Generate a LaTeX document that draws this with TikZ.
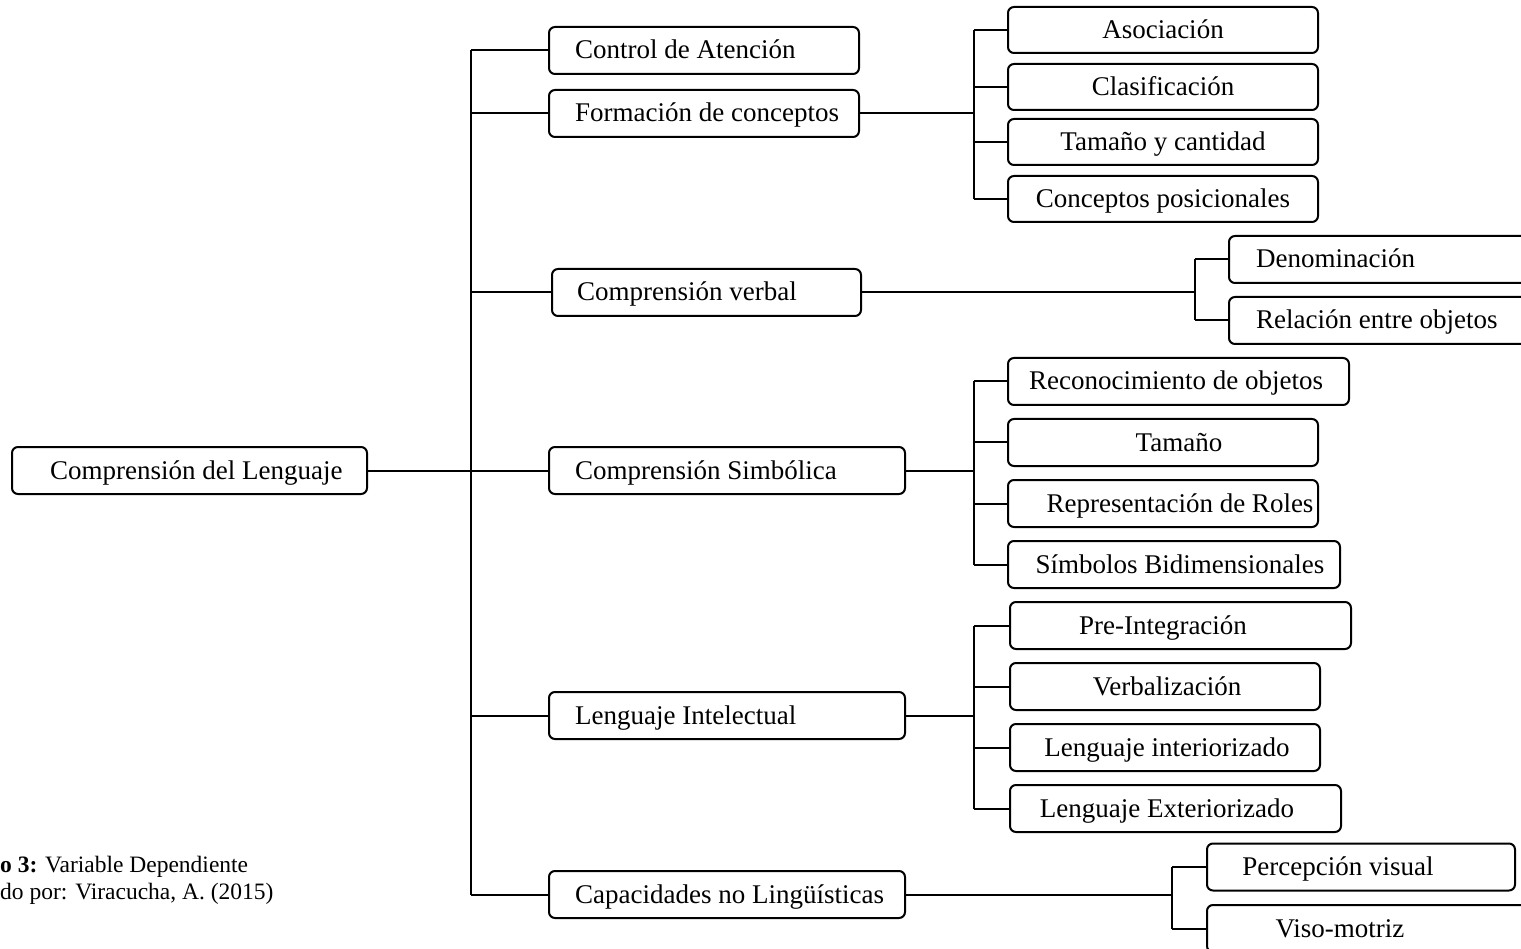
\documentclass[tikz,border=0pt]{standalone}
\usepackage{fontspec}
\setmainfont{Liberation Serif}
\begin{document}
\begin{tikzpicture}[x=1pt,y=-1pt,
  box/.style={draw, line width=2pt, rounded corners=6pt, minimum height=47pt, inner sep=0pt},
  txt/.style={inner sep=0pt, font=\fontsize{27}{32}\selectfont, text height=17pt, text depth=0pt},
  captxt/.style={inner sep=0pt, anchor=west, font=\fontsize{23.5}{24}\selectfont},
  ln/.style={line width=2pt}]
\useasboundingbox (0,0) rectangle (1521,949);
\clip (0,0) rectangle (1521,949);

% root
\node[box, minimum width=355pt] (root) at (189.5,470.5) {};
\node[txt, anchor=west] (troot) at (50,470.5) {Comprensión del Lenguaje};

% level 1
\node[box, minimum width=310pt] (L1) at (704,50.5) {};
\node[txt, anchor=west] (tL1) at (575,50.5) {Control de Atención};
\node[box, minimum width=310pt] (L2) at (704,113.5) {};
\node[txt, anchor=west] (tL2) at (575,113.5) {Formación de conceptos};
\node[box, minimum width=309pt] (L3) at (706.5,292.5) {};
\node[txt, anchor=west] (tL3) at (577,292.5) {Comprensión verbal};
\node[box, minimum width=356pt] (L4) at (727,470.5) {};
\node[txt, anchor=west] (tL4) at (575,470.5) {Comprensión Simbólica};
\node[box, minimum width=356pt] (L5) at (727,715.5) {};
\node[txt, anchor=west] (tL5) at (575,715.5) {Lenguaje Intelectual};
\node[box, minimum width=356pt] (L6) at (727,894.5) {};
\node[txt, anchor=west] (tL6) at (575,894.5) {Capacidades no Lingüísticas};

% group A
\node[box, minimum width=310pt, minimum height=46pt] (A1) at (1163,30) {};
\node[txt] (tA1) at (1163,30) {Asociación};
\node[box, minimum width=310pt, minimum height=46pt] (A2) at (1163,87) {};
\node[txt] (tA2) at (1163,87) {Clasificación};
\node[box, minimum width=310pt, minimum height=46pt] (A3) at (1163,142) {};
\node[txt] (tA3) at (1163,142) {Tamaño y cantidad};
\node[box, minimum width=310pt, minimum height=46pt] (A4) at (1163,199) {};
\node[txt] (tA4) at (1163,199) {Conceptos posicionales};

% group B
\node[box, minimum width=301pt] (B1) at (1379.5,259.5) {};
\node[txt, anchor=west] (tB1) at (1256,259.5) {Denominación};
\node[box, minimum width=301pt] (B2) at (1379.5,320.5) {};
\node[txt, anchor=west] (tB2) at (1256,320.5) {Relación entre objetos};

% group C
\node[box, minimum width=341pt] (C1) at (1178.5,381.5) {};
\node[txt] (tC1) at (1176,381.5) {Reconocimiento de objetos};
\node[box, minimum width=310pt] (C2) at (1163,442.5) {};
\node[txt] (tC2) at (1179,442.5) {Tamaño};
\node[box, minimum width=310pt] (C3) at (1163,503.5) {};
\node[txt] (tC3) at (1180,503.5) {Representación de Roles};
\node[box, minimum width=332pt] (C4) at (1174,564.5) {};
\node[txt] (tC4) at (1180,564.5) {Símbolos Bidimensionales};

% group D
\node[box, minimum width=341pt] (D1) at (1180.5,625.5) {};
\node[txt] (tD1) at (1163,625.5) {Pre-Integración};
\node[box, minimum width=310pt] (D2) at (1165,686.5) {};
\node[txt] (tD2) at (1167,686.5) {Verbalización};
\node[box, minimum width=310pt] (D3) at (1165,747.5) {};
\node[txt] (tD3) at (1167,747.5) {Lenguaje interiorizado};
\node[box, minimum width=331pt] (D4) at (1175.5,808.5) {};
\node[txt] (tD4) at (1167,808.5) {Lenguaje Exteriorizado};

% group E
\node[box, minimum width=308pt] (E1) at (1361,867) {};
\node[txt] (tE1) at (1338,867) {Percepción visual};
\node[box, minimum width=323pt] (E2) at (1368.5,928.5) {};
\node[txt] (tE2) at (1340,928.5) {Viso-motriz};

% connectors: trunk
\coordinate (t) at (471,0);
\draw[ln] (root.east) -- (L4.west);
\draw[ln] (L1.west -| t) -- (L6.west -| t);
\foreach \n in {L1,L2,L3,L5,L6} \draw[ln] (\n.west -| t) -- (\n.west);

% group A
\coordinate (ta) at (974,0);
\draw[ln] (L2.east) -- (L2.east -| ta);
\draw[ln] (A1.west -| ta) -- (A4.west -| ta);
\foreach \n in {A1,A2,A3,A4} \draw[ln] (\n.west -| ta) -- (\n.west);

% group B
\coordinate (tb) at (1195,0);
\draw[ln] (L3.east) -- (L3.east -| tb);
\draw[ln] (B1.west -| tb) -- (B2.west -| tb);
\foreach \n in {B1,B2} \draw[ln] (\n.west -| tb) -- (\n.west);

% group C
\coordinate (tc) at (974,0);
\draw[ln] (L4.east) -- (L4.east -| tc);
\draw[ln] (C1.west -| tc) -- (C4.west -| tc);
\foreach \n in {C1,C2,C3,C4} \draw[ln] (\n.west -| tc) -- (\n.west);

% group D
\coordinate (td) at (974,0);
\draw[ln] (L5.east) -- (L5.east -| td);
\draw[ln] (D1.west -| td) -- (D4.west -| td);
\foreach \n in {D1,D2,D3,D4} \draw[ln] (\n.west -| td) -- (\n.west);

% group E
\coordinate (te) at (1172,0);
\draw[ln] (L6.east) -- (L6.east -| te);
\draw[ln] (E1.west -| te) -- (E2.west -| te);
\foreach \n in {E1,E2} \draw[ln] (\n.west -| te) -- (\n.west);

% caption
\node[captxt] (cap1) at (0,867) {\textbf{o 3:} Variable Dependiente};
\node[captxt] (cap2) at (0,894) {do por: Viracucha, A. (2015)};
\end{tikzpicture}
\end{document}
